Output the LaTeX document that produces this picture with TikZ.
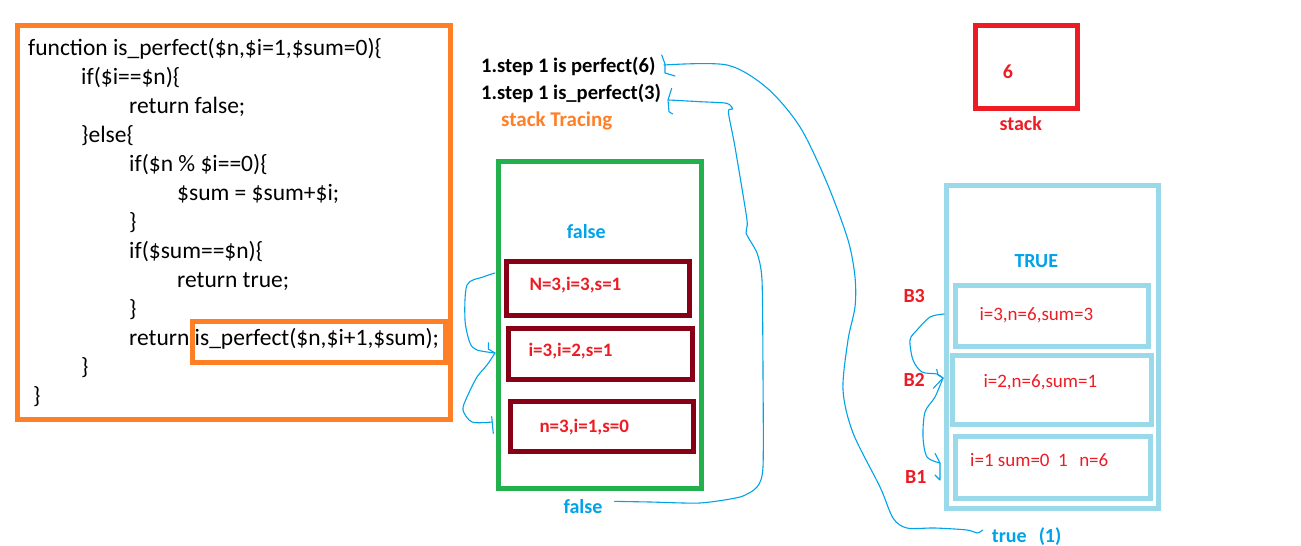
\documentclass[tikz,border=0pt]{standalone}
\usepackage{fontspec}
\setmainfont{Carlito}
\definecolor{codeorange}{HTML}{FF7F27}
\definecolor{framegreen}{HTML}{22B14C}
\definecolor{framewine}{HTML}{880015}
\definecolor{framesky}{HTML}{99D9EA}
\definecolor{stackred}{HTML}{ED1C24}
\definecolor{traceblue}{HTML}{00A2E8}
\tikzset{
  codeline/.style={anchor=base west, inner sep=0pt, font=\fontsize{23.5}{28}\selectfont},
  boldlbl/.style={anchor=base west, inner sep=0pt, font=\bfseries\fontsize{20}{24}\selectfont},
  steplbl/.style={boldlbl, font=\bfseries\fontsize{20.6}{24}\selectfont},
  framelbl/.style={boldlbl, text=stackred, font=\bfseries\fontsize{19}{23}\selectfont},
  vallbl/.style={anchor=base west, inner sep=0pt, text=stackred, font=\fontsize{19}{23}\selectfont},
  frame/.style={draw, line width=5pt, inner sep=0pt, outer sep=0pt, anchor=north west},
  trace/.style={draw=traceblue, line width=1.1pt, line join=round, line cap=round},
}
\begin{document}
\begin{tikzpicture}[x=1pt,y=-1pt]
\useasboundingbox (0,0) rectangle (1301,546);

% ---- source code of the recursive function
\node[frame, draw=codeorange, minimum width=432.5pt, minimum height=394pt] (codebox) at (17.5,25) {};
\node[frame, draw=codeorange, minimum width=253pt, minimum height=40.8pt] (callbox) at (192.5,321.7) {};
\node[codeline] (l1)  at (28,55)   {function is\_perfect(\$n,\$i=1,\$sum=0)\{};
\node[codeline] (l2)  at (81,84)   {if(\$i==\$n)\{};
\node[codeline] (l3)  at (129,113) {return false;};
\node[codeline] (l4)  at (81,142)  {\}else\{};
\node[codeline] (l5)  at (129,171) {if(\$n \% \$i==0)\{};
\node[codeline] (l6)  at (177,200) {\$sum = \$sum+\$i;};
\node[codeline] (l7)  at (129,229) {\}};
\node[codeline] (l8)  at (129,258) {if(\$sum==\$n)\{};
\node[codeline] (l9)  at (177,287) {return true;};
\node[codeline] (l10) at (129,316) {\}};
\node[codeline] (l11) at (129,345) {return is\_perfect(\$n,\$i+1,\$sum);};
\node[codeline] (l12) at (81,374)  {\}};
\node[codeline] (l13) at (33,403)  {\}};

% ---- headings
\node[steplbl] (s6) at (481,72.5) {1.step 1 is perfect(6)};
\node[steplbl] (s3) at (481,99)   {1.step 1 is\_perfect(3)};
\node[boldlbl, text=codeorange, font=\bfseries\fontsize{21}{25}\selectfont] (trc) at (501,126) {stack Tracing};

% ---- stack for n = 3
\node[frame, draw=framegreen, minimum width=202.5pt, minimum height=326.3pt] (grn) at (498.5,161.7) {};
\node[boldlbl, text=traceblue] (f1) at (566.7,238.3) {false};
\node[frame, draw=framewine, minimum width=182.3pt, minimum height=53.5pt] (w1) at (506.7,261.5) {};
\node[frame, draw=framewine, minimum width=184pt, minimum height=50.5pt] (w2) at (508.5,328.5) {};
\node[frame, draw=framewine, minimum width=183pt, minimum height=49.9pt] (w3) at (510,401.8) {};
\node[framelbl] (v1) at (529.3,290) {N=3,i=3,s=1};
\node[framelbl] (v2) at (528.3,356.7) {i=3,i=2,s=1};
\node[framelbl] (v3) at (539.3,432.7) {n=3,i=1,s=0};
\node[boldlbl, text=traceblue] (f2) at (563.3,513.3) {false};

% ---- stack for n = 6
\node[frame, draw=stackred, minimum width=101.7pt, minimum height=82.4pt] (stk) at (975.8,25.8) {};
\node[boldlbl, text=stackred] (six) at (1002.7,78.3) {6};
\node[boldlbl, text=stackred] (stl) at (999.3,130.5) {stack};

\node[frame, draw=framesky, minimum width=211.5pt, minimum height=323pt] (sky) at (946.5,185) {};
\node[boldlbl, text=traceblue] (tru) at (1014.3,267.3) {TRUE};
\node[frame, draw=framesky, minimum width=193.5pt, minimum height=61.5pt] (b3) at (955,285) {};
\node[frame, draw=framesky, minimum width=198.5pt, minimum height=69pt] (b2) at (952.5,355) {};
\node[frame, draw=framesky, minimum width=195pt, minimum height=62pt] (b1) at (955,436.5) {};
\node[vallbl] (u3) at (979.3,320) {i=3,n=6,sum=3};
\node[vallbl] (u2) at (983.3,387.7) {i=2,n=6,sum=1};
\node[vallbl] (u1) at (970,466) {i=1 sum=0\hspace{8.6pt}1\hspace{11.4pt}n=6};
\node[boldlbl, text=stackred] (B3) at (903.3,302.3) {B3};
\node[boldlbl, text=stackred] (B2) at (903.3,386) {B2};
\node[boldlbl, text=stackred] (B1) at (905,483.3) {B1};
\node[boldlbl, text=traceblue] (t1) at (991.7,542) {true\hspace{12pt}(1)};

% ---- end points of the hand-drawn traces
\coordinate (a6) at (664,65);
\coordinate (a3) at (669,100);
\coordinate (gA) at (495,273);
\coordinate (gB) at (495,353);
\coordinate (gC) at (492,422);
\coordinate (kA) at (944,314);
\coordinate (kB) at (943,378);
\coordinate (kC) at (940,463);

% call is_perfect(6) returns true (1)
\draw[trace] (661.7,55) -- (665,64) -- (665,73) -- (675,76);
\draw[trace] plot[smooth, tension=0.5] coordinates {
  (a6) (727,65) (767,88) (800,127) (827,183) (848,240) (855,277)
  (855,307) (848,340) (843,390) (853,433) (880,487) (893,518) (907,528)
  (935,528) (967,530) (977,533) ([shift={(-9,-6)}]t1.west)};

% call is_perfect(3) returns false
\draw[trace] (671.7,88.3) -- (668,100) -- (669,111.7) -- (672.7,114);
\draw[trace] plot[smooth, tension=0.4] coordinates {
  (a3) (700,101.7) (726.7,103.3) (732.7,109) (728.3,111.7)
  (735,147) (747,220) (746,233) (757,253) (762,280) (763,373) (763,467)
  (757,487) (740,497) (700,503) (650,502) ([shift={(12,-5)}]f2.east)};

% recursion inside the n = 3 stack
\draw[trace] plot[smooth, tension=0.5] coordinates {
  (gA) (483,277) (467,285) (465,320) (470,343) (477,350) (gB)};
\draw[trace] (488.3,342.7) -- (488.3,349) -- (gB);
\draw[trace] plot[smooth, tension=0.5] coordinates {
  (gB) (487,365) (477,377) (467,397) (463,410) (472,422) (gC)};
\draw[trace] (491.7,416.7) -- (493.3,433.3);

% recursion inside the n = 6 stack
\draw[trace] plot[smooth, tension=0.5] coordinates {
  (kA) (930,317) (917,330) (910,340) (913,360) (922,372) (937,374) (kB)};
\draw[trace] (936.7,369.3) -- (938,375) -- (kB) -- (933.3,388.3);
\draw[trace] plot[smooth, tension=0.5] coordinates {
  (kB) (935,397) (925,412) (923,437) (927,457) (kC)};
\draw[trace] (935,453.3) -- (kC) -- (940,480) -- (935,475);
\end{tikzpicture}
\end{document}
